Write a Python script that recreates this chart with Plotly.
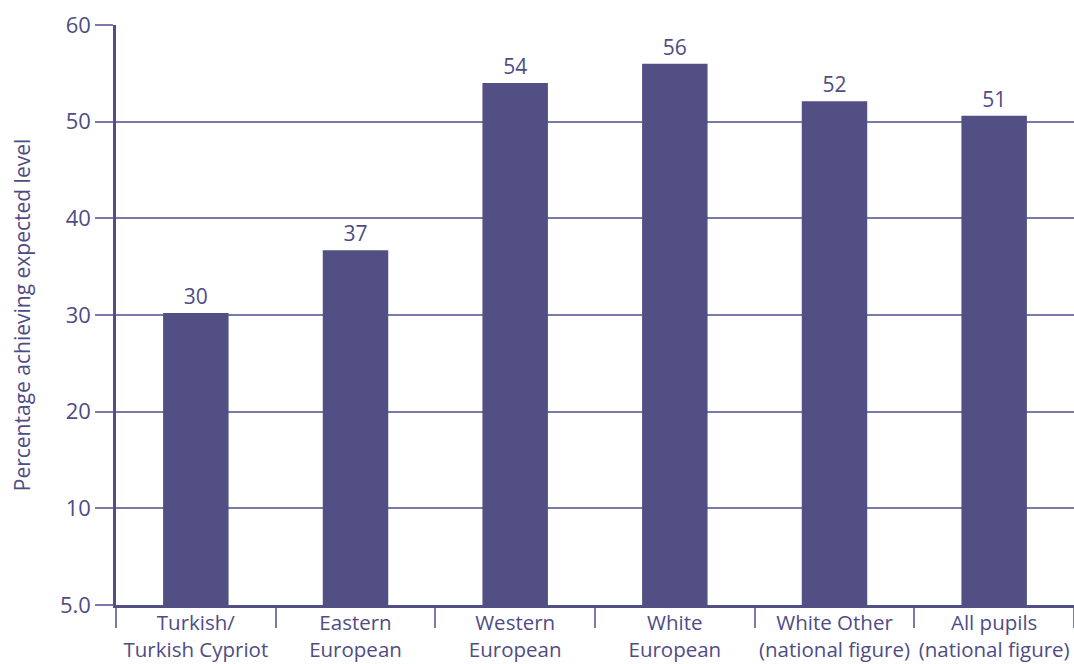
import plotly.graph_objects as go

categories = ["Turkish/<br>Turkish Cypriot", "Eastern<br>European", "Western<br>European",
              "White<br>European", "White Other<br>(national figure)", "All pupils<br>(national figure)"]
values = [30.2, 36.7, 54.0, 56.0, 52.1, 50.6]
y_tickvals = [0, 10, 20, 30, 40, 50, 60]
y_ticktext = ["5.0", "10", "20", "30", "40", "50", "60"]

bar_color = "#524f85"
text_color = "#4f4c85"
grid_color = "#7b78aa"
font_family = "Open Sans, Lato, sans-serif"

fig = go.Figure(go.Bar(
    x=categories, y=values,
    marker=dict(color=bar_color, line=dict(width=0)),
    texttemplate="%{y:.0f}", textposition="outside",
    textfont=dict(size=21, color=text_color, family=font_family),
    cliponaxis=False,
))

fig.update_layout(
    width=1074, height=664,
    margin=dict(l=116, r=0, t=25, b=59),
    paper_bgcolor="white", plot_bgcolor="white",
    bargap=0.59, showlegend=False,
    font=dict(family=font_family, color=text_color),
)
fig.update_xaxes(
    type="category", range=[-0.5, 5.5], tickangle=0, automargin=False,
    showline=True, linecolor=bar_color, linewidth=2.5,
    ticks="outside", tickson="boundaries", ticklen=20, tickwidth=1.5, tickcolor=grid_color,
    tickfont=dict(size=20.5, color=text_color, family=font_family),
    ticklabelstandoff=-2,
    showgrid=False,
)
fig.update_yaxes(
    range=[0, 60], tickvals=y_tickvals, ticktext=y_ticktext, automargin=False,
    showline=True, linecolor=bar_color, linewidth=2.5,
    ticks="outside", ticklen=18, tickwidth=1.5, tickcolor=grid_color,
    showgrid=True, gridcolor=grid_color, gridwidth=1.5,
    zeroline=False,
    tickfont=dict(size=22, color=text_color, family=font_family),
    title=dict(text="Percentage achieving expected level",
               font=dict(size=21, color=text_color, family=font_family), standoff=24),
)

fig.write_html("out.html")
